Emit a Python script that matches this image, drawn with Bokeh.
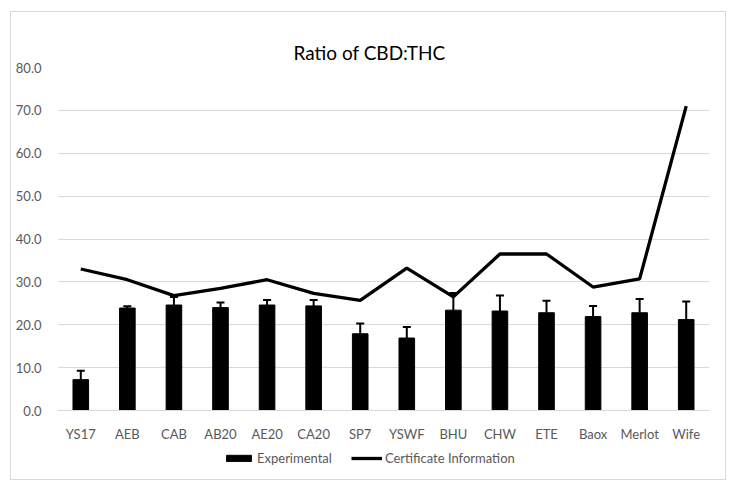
from bokeh.plotting import figure
from bokeh.layouts import column
from bokeh.models import (ColumnDataSource, FactorRange, Range1d, Whisker, TeeHead,
                          Legend, LegendItem, NumeralTickFormatter, SingleIntervalTicker)
from bokeh.embed import file_html
from bokeh.resources import INLINE

categories = ["YS17", "AEB", "CAB", "AB20", "AE20", "CA20", "SP7", "YSWF",
              "BHU", "CHW", "ETE", "Baox", "Merlot", "Wife"]
experimental = [7.2, 23.9, 24.6, 24.0, 24.6, 24.4, 17.9, 16.9, 23.4, 23.2, 22.8, 21.9, 22.8, 21.2]
exp_error = [2.1, 0.4, 1.9, 1.2, 1.2, 1.4, 2.4, 2.6, 4.0, 3.6, 2.8, 2.5, 3.2, 4.2]
certificate = [33.0, 30.5, 26.8, 28.5, 30.5, 27.3, 25.7, 33.2, 26.5, 36.5, 36.5, 28.8, 30.7, 71.0]
series_names = ["Experimental", "Certificate Information"]

upper = [v + e for v, e in zip(experimental, exp_error)]
src = ColumnDataSource(dict(cat=categories, exp=experimental, up=upper, cert=certificate))

FONT = "Lato"
GRAY = "#595959"

p = figure(x_range=FactorRange(*categories, range_padding=0), y_range=Range1d(0, 80),
           width=714, height=432, output_backend="svg", toolbar_location=None,
           min_border_left=46, min_border_right=16, min_border_top=55, min_border_bottom=20,
           title="Ratio of CBD:THC")
p.outline_line_color = None
p.background_fill_color = "white"
p.border_fill_color = "white"

p.title.align = "left"
p.title.offset = 236
p.title.text_font = FONT
p.title.text_font_size = "19px"
p.title.text_font_style = "normal"
p.title.text_color = "black"
p.title.standoff = 7

p.vbar(x="cat", top="exp", width=0.335, source=src, fill_color="black", line_color="black")
w = Whisker(base="cat", lower="exp", upper="up", source=src, line_color="black", line_width=2,
            lower_head=None, upper_head=TeeHead(size=8, line_color="black", line_width=2))
p.add_layout(w)
p.line(x="cat", y="cert", source=src, line_color="black", line_width=3.3)

p.xgrid.grid_line_color = None
p.ygrid.grid_line_color = "#d9d9d9"
p.ygrid.grid_line_width = 1
p.yaxis.ticker = SingleIntervalTicker(interval=10)
p.yaxis.formatter = NumeralTickFormatter(format="0.0")
p.yaxis.axis_line_color = None
p.yaxis.major_tick_line_color = None
p.yaxis.minor_tick_line_color = None
p.yaxis.major_label_standoff = 10
p.xaxis.axis_line_color = "#d9d9d9"
p.xaxis.major_tick_line_color = None
p.xaxis.minor_tick_line_color = None
p.xaxis.major_label_standoff = 9
for ax in (p.xaxis[0], p.yaxis[0]):
    ax.major_label_text_font = FONT
    ax.major_label_text_font_size = "13px"
    ax.major_label_text_color = GRAY

# legend strip
lf = figure(x_range=Range1d(0, 1), y_range=Range1d(0, 1), width=714, height=35,
            output_backend="svg", toolbar_location=None,
            x_axis_location=None, y_axis_location=None,
            min_border_left=0, min_border_right=0, min_border_top=0, min_border_bottom=0)
lf.grid.visible = False
lf.outline_line_color = None
lf.background_fill_color = "white"
lf.border_fill_color = "white"
lb = lf.vbar(x=[-5], top=[-5], width=0.1, fill_color="black", line_color="black")
ll = lf.line(x=[-5, -6], y=[-5, -6], line_color="black", line_width=3.3)
legend = Legend(items=[LegendItem(label=series_names[0], renderers=[lb]),
                       LegendItem(label=series_names[1], renderers=[ll])],
                orientation="horizontal", location=(166, 13), padding=0, margin=0,
                spacing=19, label_standoff=3, glyph_width=31, glyph_height=8,
                label_text_font=FONT, label_text_font_size="13px", label_text_color=GRAY,
                border_line_color=None, background_fill_alpha=0)
lf.add_layout(legend, "center")

layout = column(p, lf, spacing=0, margin=(11, 0, 0, 10),
                styles={"border": "1px solid #d9d9d9", "background-color": "white"})

open("out.html", "w").write(file_html(layout, INLINE))
